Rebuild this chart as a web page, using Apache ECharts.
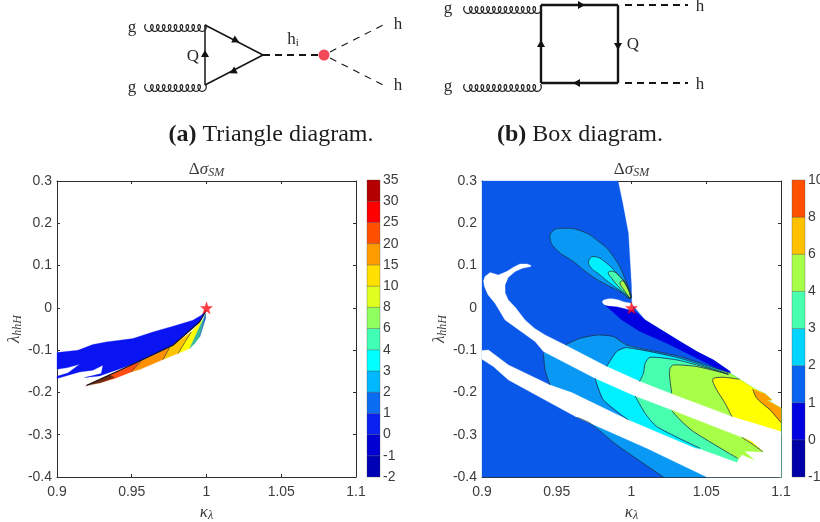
<!DOCTYPE html>
<html><head><meta charset="utf-8">
<style>html,body{margin:0;padding:0;background:#fff}#c{width:820px;height:522px}</style>
<script src="https://cdn.jsdelivr.net/npm/echarts@6/dist/echarts.min.js"></script>
</head><body><div id="c"></div>
<script>
// ---------- colour bar values ----------
const leftTicks  = ['-2','-1','0','1','2','3','4','6','8','10','15','20','25','30','35'];
const rightTicks = ['-1','0','1','2','3','4','6','8','10'];
const leftBarColors  = ['#0000b4','#0000d2','#0a20f0','#0a6cf0','#00b8ff','#00ffff','#40ffb4','#90ff60','#e0ff20','#ffe000','#ff9c00','#ff5000','#ff0000','#b40000'];
const rightBarColors = ['#0000a8','#0000e0','#0a62f0','#00d4ff','#48ffb0','#a8ff48','#ffc000','#ff5000'];

// ---------- left panel regions (kappa, lambda) ----------
const leftBlue = [[.9,-.1058],[.9140,-.1002],[.9240,-.0868],[.9330,-.0805],[.9508,-.0727],[.9642,-.0569],[.9776,-.0435],[.9909,-.0293],[.9965,-.0175],[.9999,-.0057],[.9954,-.0333],[.9776,-.0884],[.9508,-.1333],[.9285,-.1609],[.9185,-.1649],[.9296,-.1554],[.9307,-.1357],[.9240,-.1475],[.9151,-.1515],[.9,-.1672],[.9,-.1617],[.9073,-.1538],[.9151,-.1333],[.9073,-.1412],[.9,-.1452]];
const leftBrown = [[.9190,-.1845],[.9352,-.1585],[.9385,-.1649],[.9285,-.1775]];
const leftRed = [[.9285,-.1775],[.9352,-.1585],[.9564,-.1255],[.9497,-.1515],[.9385,-.1672]];
const leftOrange = [[.9497,-.1515],[.9564,-.1255],[.9753,-.0939],[.9709,-.1223],[.9553,-.1459]];
const leftAmber = [[.9709,-.1223],[.9753,-.0939],[.9898,-.0569],[.9809,-.1081]];
const leftYellow = [[.9809,-.1081],[.9898,-.0569],[.9976,-.0277],[.9887,-.0963]];
const leftTeal = [[.9887,-.0963],[.9976,-.0277],[.9994,-.0136],[.9954,-.0687],[.9921,-.0845]];
const leftDeep = [[.9994,-.0136],[.9994,-.0254],[.9954,-.0687]];
const leftEdge = [[.9999,-.0057],[.9954,-.0333],[.9776,-.0884],[.9508,-.1333],[.9200,-.1830]];
const leftContours = [
  [[.9497,-.1515],[.9564,-.1255]],
  [[.9709,-.1223],[.9753,-.0939]],
  [[.9809,-.1081],[.9898,-.0569]]
];

// ---------- right panel regions (kappa, lambda) ----------
const topRim = [[1.0660,-.1547],[1.0722,-.1689],[1.0816,-.1901],[1.0894,-.2035],[1.0938,-.2177],[1.0905,-.2177],[1.1,-.2374]];
const rightBase = [[.9,.3],[.9910,.3],[.9941,.2474],[.9979,.1764],[1.0,.0503],[1.0001,.0094],[1.0091,-.0286],[1.0325,-.0798],[1.0437,-.1035],[1.0548,-.1232],[1.0660,-.1507],[1.0660,-.1586],[1.0503,-.4],[.9,-.4]];
const rightDark = [[.9823,.0070],[1.0001,-.0009],[1.0091,-.0286],[1.0325,-.0798],[1.0437,-.1035],[1.0548,-.1232],[1.0660,-.1507],[1.0660,-.1586],[1.0437,-.1192],[1.0236,-.0838],[1.0057,-.0562],[.9935,-.0286]];
const lobe2 = [[.9995,.0228],[.9968,.0582],[.9879,.1213],[.9767,.1607],[.9656,.1827],[.9544,.1883],[.9477,.1827],[.9455,.1646],[.9500,.1370],[.9611,.1095],[.9723,.0779],[.9834,.0543],[.9923,.0385]];
const lobe3 = [[.9995,.0228],[.9957,.0582],[.9901,.0819],[.9834,.1055],[.9756,.1213],[.9716,.1134],[.9723,.0976],[.9789,.0779],[.9856,.0582],[.9934,.0385]];
const lobe4 = [[.9995,.0228],[.9968,.0543],[.9923,.0740],[.9879,.0858],[.9845,.0835],[.9867,.0701],[.9923,.0464],[.9968,.0307]];
const lobe5 = [[.9995,.0228],[.9950,.0622],[.9923,.0598],[.9957,.0385]];
const level2 = [[.9556,-.0877],[.9656,-.0719],[.9779,-.0641],[.9879,-.0680],[.9968,-.0877],[1.0325,-.1153],...topRim,[1.1,-.4],[1.0214,-.4],[.9901,-.3241],[.9723,-.2729],[.9634,-.2587],[.9455,-.1823],[.9422,-.1468],[.9411,-.1074]];
const level3 = [[.9968,-.0940],[1.0325,-.1192],...topRim,[1.1,-.4],[1.0548,-.3753],[1.0102,-.3005],[.9979,-.2650],[.9812,-.2177],[.9756,-.1665],[.9834,-.1389],[.9901,-.1035]];
const level4 = [[1.0124,-.1169],[1.0325,-.1247],...topRim,[1.1,-.4],[1.0548,-.3753],[1.0459,-.3320],[1.0169,-.2808],[1.0091,-.2492],[1.0024,-.2083],[1.0053,-.1744],[1.0080,-.1547],[1.0091,-.1310]];
const level5 = [[1.0280,-.1350],[1.0437,-.1389],...topRim,[1.1,-.4],[1.0771,-.3832],[1.0709,-.3556],[1.0414,-.2926],[1.0325,-.2650],[1.0269,-.2429],[1.0269,-.2020],[1.0254,-.1586],[1.0258,-.1429]];
const level6 = [[1.0548,-.1665],[1.0615,-.1641],[1.0722,-.1689],[1.0816,-.1901],[1.0894,-.2035],[1.0938,-.2177],[1.0905,-.2177],[1.1,-.2374],[1.1,-.30],[1.0749,-.2808],[1.0671,-.2571],[1.0626,-.2256],[1.0570,-.1941],[1.0544,-.1744]];
const level8 = [[1.0811,-.1925],[1.0838,-.2138],[1.0927,-.2414],[1.1,-.2713],[1.1,-.2374],[1.0905,-.2177],[1.0938,-.2177],[1.0894,-.2035]];
const whiteBands = [[.9326,.0976],[.9270,.0935],[.9221,.0858],[.9175,.0720],[.9154,.0541],[.9155,.0350],[.9176,.0188],[.9225,.0000],[.9288,-.0286],[.9350,-.0480],[.9422,-.0641],[.9556,-.0877],[.9834,-.1389],[1.0057,-.1744],[1.0269,-.2035],[1.0671,-.2571],[1.1,-.2926],[1.1,-.4],[1.0503,-.4],[1.0102,-.3320],[.9634,-.2587],[.9177,-.1704],[.9076,-.1389],[.9,-.1216],[.9,-.1011],[.9043,-.0995],[.9177,-.1350],[.9455,-.1823],[.9600,-.2004],[.9979,-.2650],[1.0425,-.3320],[1.0459,-.3343],[1.0704,-.3659],[1.0738,-.3477],[1.0827,-.3611],[1.0760,-.3399],[1.0883,-.3414],[1.0804,-.3162],[1.0738,-.3060],[1.0280,-.2429],[1.0024,-.2083],[.9756,-.1665],[.9411,-.1035],[.9355,-.0798],[.9154,-.0286],[.9087,.0110],[.9040,.0310],[.9016,.0504],[.9010,.0640],[.9020,.0740],[.9054,.0835],[.9109,.0779],[.9165,.0858],[.9210,.0960],[.9254,.1039],[.9300,.1040],[.9326,.1008]];
const whiteCrescent = [[.9805,.0149],[.9834,.0204],[.9890,.0204],[.9957,.0133],[1.0001,.0094],[1.0008,-.0009],[1.0001,-.0048],[.9901,.0031],[.9823,.0070]];
const yellowSliver = [[1.0738,-.3060],[1.0804,-.3162],[1.0878,-.3399],[1.0816,-.3241]];
const rightContours = [
  [[.9556,-.0877],[.9656,-.0719],[.9779,-.0641],[.9879,-.0680],[.9968,-.0877],[1.0325,-.1153],[1.0660,-.1547]],
  [[.9411,-.1074],[.9422,-.1468],[.9455,-.1823]],
  [[.9634,-.2587],[.9723,-.2729],[.9901,-.3241],[1.0214,-.4]],
  [[.9834,-.1389],[.9901,-.1035],[.9968,-.0940],[1.0325,-.1192],[1.0648,-.1570]],
  [[.9756,-.1665],[.9812,-.2177],[.9979,-.2650]],
  [[1.0053,-.1744],[1.0080,-.1547],[1.0091,-.1310],[1.0124,-.1169],[1.0325,-.1247],[1.0648,-.1570]],
  [[1.0024,-.2083],[1.0091,-.2492],[1.0169,-.2808],[1.0459,-.3320]],
  [[1.0269,-.2020],[1.0254,-.1586],[1.0258,-.1429],[1.0280,-.1350],[1.0437,-.1389],[1.0648,-.1570]],
  [[1.0269,-.2429],[1.0325,-.2650],[1.0414,-.2926],[1.0709,-.3556]],
  [[1.0671,-.2571],[1.0626,-.2256],[1.0570,-.1941],[1.0544,-.1744],[1.0548,-.1665],[1.0615,-.1641],[1.0722,-.1689]],
  [[1.0811,-.1925],[1.0838,-.2138],[1.0927,-.2414],[1.1,-.2713]],
  [[1.0738,-.3060],[1.0816,-.3241],[1.0878,-.3399]]
];
const lobeContours = [lobe2,lobe3,lobe4,lobe5];
const starPoint = [[1.0,0]];
const kappaTicks = {min:.9,max:1.1,step:.05};
const lambdaTicks = {min:-.4,max:.3,step:.1};

// ---------- diagram strokes (diagram units) ----------
const thinLines = [[205,25,205,85],[205,25,263,55],[205,85,263,55]];
const boxLines  = [[541,5,618,5],[618,5,618,83],[618,83,541,83],[541,83,541,5]];
const dashThick = [[263,55,320,55],[625,5,688,5],[625,83,688,83]];
const dashThin  = [[330,52,383,25],[330,58,383,85]];
const gluons    = [[146,28,205],[146,88,205],[465,10,540],[465,88,540]];
const arrows    = [[205,57,0,-1],[233,39,2,1],[236,70,-2,1],[578,5,1,0],[618,43,0,1],[580,83,-1,0],[541,47,0,-1]];
const vertexDot = [[324,55]];
const diagramText = [[132,28,'g'],[132,88,'g'],[193,57,'Q'],[398,25,'h'],[398,86,'h'],[448,9,'g'],[448,87,'g'],[633,45,'Q'],[700,7,'h'],[700,85,'h']];
const captions = [[271,135,'{b|(a)} Triangle diagram.'],[580,135,'{b|(b)} Box diagram.']];

// ---------- builders ----------
const SERIF='"Liberation Serif","DejaVu Serif",serif', SANS='"Liberation Sans",Arial,sans-serif', GREY='#3c3c3c';
const nameRich={i:{fontFamily:SERIF,fontStyle:'italic',fontSize:17,color:GREY,lineHeight:18},
  u:{fontFamily:SERIF,fontSize:17,color:GREY,lineHeight:18},
  s:{fontFamily:SERIF,fontStyle:'italic',fontSize:12,color:GREY,verticalAlign:'bottom',padding:[6,0,0,0]}};
function poly(pts,color,ax,smooth){return {type:'custom',xAxisIndex:ax,yAxisIndex:ax,silent:true,animation:false,data:pts,
  encode:{x:0,y:1},renderItem:(p,api)=>p.dataIndex?null:{type:'polygon',
    shape:{points:pts.map(q=>api.coord(q)),smooth:smooth||0},style:{fill:color,stroke:color,lineWidth:.3}}};}
function line(pts,color,width,ax,smooth,closed){return {type:'custom',xAxisIndex:ax,yAxisIndex:ax,silent:true,animation:false,data:pts,
  encode:{x:0,y:1},renderItem:(p,api)=>p.dataIndex?null:{type:closed?'polygon':'polyline',
    shape:{points:pts.map(q=>api.coord(q)),smooth:smooth||0},style:{fill:null,stroke:color,lineWidth:width}}};}
function star(ax){return {type:'scatter',xAxisIndex:ax,yAxisIndex:ax,silent:true,animation:false,data:starPoint,z:10,symbolSize:13,
  symbol:'path://M0,-10L2.35,-3.24L9.51,-3.09L3.8,1.24L5.88,8.09L0,4L-5.88,8.09L-3.8,1.24L-9.51,-3.09L-2.35,-3.24Z',
  itemStyle:{color:'#ff0a14'}};}
function bar(colors,ax){const d=colors.map((c,i)=>[i]);return {type:'custom',xAxisIndex:ax,yAxisIndex:ax,silent:true,animation:false,data:d,
  encode:{y:0},renderItem:(p,api)=>{const i=p.dataIndex,a=api.coord([0,i]),b=api.coord([1,i+1]);
    return {type:'rect',shape:{x:a[0],y:b[1],width:b[0]-a[0],height:a[1]-b[1]},style:{fill:colors[i],stroke:'rgba(70,70,70,.45)',lineWidth:.7}};}};}
function diag(data,build){return {type:'custom',xAxisIndex:0,yAxisIndex:0,silent:true,animation:false,data:data.map(r=>r.slice(0,2)),
  encode:{x:0,y:1},renderItem:(p,api)=>build(data[p.dataIndex],api)};}
function segs(data,width,dash){return diag(data,(r,api)=>{const a=api.coord([r[0],r[1]]),b=api.coord([r[2],r[3]]);
  return {type:'line',shape:{x1:a[0],y1:a[1],x2:b[0],y2:b[1]},style:{stroke:'#151515',lineWidth:width,lineDash:dash||null}};});}
function curl(r,api){const pts=[],a=api.coord([r[0],r[1]]),b=api.coord([r[2],r[1]]),n=Math.round((b[0]-a[0])/5.8),T=(b[0]-a[0])/(n*Math.PI*2);
  for(let t=0;t<=n*Math.PI*2+.01;t+=.3)pts.push([a[0]+T*t-2.6*Math.sin(t),a[1]-3.4*Math.cos(t)]);
  return {type:'polyline',shape:{points:pts},style:{fill:null,stroke:'#222',lineWidth:1.2}};}
function arrow(r,api){const c=api.coord([r[0],r[1]]),L=Math.hypot(r[2],r[3]),x=r[2]/L,y=r[3]/L,s=5,h=7;
  return {type:'polygon',shape:{points:[[c[0]+x*h,c[1]+y*h],[c[0]-y*s*.8,c[1]+x*s*.8],[c[0]+y*s*.8,c[1]-x*s*.8]]},style:{fill:'#111'}};}
function txt(r,api){const c=api.coord([r[0],r[1]]);return {type:'text',x:c[0],y:c[1],style:{text:r[2],font:'17px '+SERIF,fill:'#2a2a2a',textAlign:'center',textVerticalAlign:'middle'}};}
function cap(r,api){const c=api.coord([r[0],r[1]]);return {type:'text',x:c[0],y:c[1],style:{text:r[2],font:'24px '+SERIF,fill:'#1c1c1c',textAlign:'center',textVerticalAlign:'middle',
  rich:{b:{font:'bold 24px '+SERIF,fill:'#1c1c1c'}}}};}

const axisStyle={lineStyle:{color:'#2e2e2e',width:1}};
const plotX=(grid,extra)=>Object.assign({type:'value',gridIndex:grid,min:kappaTicks.min,max:kappaTicks.max,interval:kappaTicks.step,
  axisLine:Object.assign({show:true,onZero:false},axisStyle),axisTick:{inside:true,length:3,lineStyle:axisStyle.lineStyle},splitLine:{show:false},
  axisLabel:{color:GREY,fontFamily:SANS,fontSize:14,margin:8}},extra);
const plotY=(grid,extra)=>Object.assign({type:'value',gridIndex:grid,min:lambdaTicks.min,max:lambdaTicks.max,interval:lambdaTicks.step,
  axisLine:Object.assign({show:true,onZero:false},axisStyle),axisTick:{inside:true,length:3,lineStyle:axisStyle.lineStyle},splitLine:{show:false},
  axisLabel:{color:GREY,fontFamily:SANS,fontSize:14,margin:5}},extra);
const xBottom={position:'bottom',name:'{i|κ}{s|λ}',nameLocation:'middle',nameGap:21,nameTextStyle:{rich:nameRich}};
const xTop={position:'top',axisLabel:{show:false},name:'{u|Δ}{i|σ}{s|SM}',nameLocation:'middle',nameGap:2,nameTextStyle:{rich:nameRich}};
const yLeft={position:'left',name:'{i|λ}{s|hhH}',nameLocation:'middle',nameGap:33,nameRotate:90,nameTextStyle:{rich:nameRich}};
const yRight={position:'right',axisLabel:{show:false}};
const barX=g=>({type:'value',gridIndex:g,min:0,max:1,show:false});
const barY=(g,ticks)=>({type:'value',gridIndex:g,position:'right',min:0,max:ticks.length-1,interval:1,
  axisLine:{show:false},axisTick:{show:false},splitLine:{show:false},
  axisLabel:{color:GREY,fontFamily:SANS,fontSize:14,margin:3,formatter:v=>ticks[v]}});

const option={
  backgroundColor:'#fff',animation:false,
  grid:[
    {left:0,top:0,width:820,height:522,outerBoundsMode:'none'},
    {left:57,top:181,width:299,height:296,outerBoundsMode:'none'},
    {left:367,top:180,width:13,height:297,outerBoundsMode:'none'},
    {left:482,top:181,width:299,height:296,outerBoundsMode:'none'},
    {left:792,top:180,width:13,height:297,outerBoundsMode:'none'}
  ],
  xAxis:[
    {type:'value',gridIndex:0,min:0,max:820,show:false},
    plotX(1,xBottom),plotX(1,xTop),barX(2),
    plotX(3,xBottom),plotX(3,xTop),barX(4)
  ],
  yAxis:[
    {type:'value',gridIndex:0,min:0,max:522,inverse:true,show:false},
    plotY(1,yLeft),plotY(1,yRight),barY(2,leftTicks),
    plotY(3,yLeft),plotY(3,yRight),barY(4,rightTicks)
  ],
  series:[
    // diagrams
    segs(thinLines,1.5),segs(boxLines,2.4),segs(dashThick,1.8,[7,5]),segs(dashThin,1.1,[7,6]),
    diag(gluons,curl),diag(arrows,arrow),
    {type:'scatter',xAxisIndex:0,yAxisIndex:0,silent:true,animation:false,data:vertexDot,symbolSize:11,itemStyle:{color:'#ee1c2e'}},
    diag(diagramText,txt),diag(captions,cap),
    diag([[293,40]],(r,api)=>{const c=api.coord(r);return {type:'text',x:c[0],y:c[1],style:{text:'h{s|i}',font:'17px '+SERIF,fill:'#2a2a2a',textAlign:'center',textVerticalAlign:'middle',rich:{s:{font:'11px '+SERIF,fill:'#2a2a2a',verticalAlign:'bottom',padding:[5,0,0,0]}}}};}),
    // left panel
    poly(leftBlue,'#0a14f2',1),poly(leftRed,'#ff4c12',1),poly(leftBrown,'#6e2a12',1),poly(leftOrange,'#ff9000',1),
    poly(leftAmber,'#ffc400',1),poly(leftYellow,'#ffff00',1),poly(leftTeal,'#38b89c',1),poly(leftDeep,'#0a58c0',1),
    line(leftEdge,'#101010',1.1,1),...leftContours.map(c=>line(c,'#403020',.7,1)),
    star(1),bar(leftBarColors,3),
    // right panel
    poly(rightBase,'#0a58ea',4),poly(rightDark,'#0000e0',4),
    poly(lobe2,'#0a98f5',4,.5),poly(lobe3,'#00f0ff',4,.5),poly(lobe4,'#48ffb0',4,.5),poly(lobe5,'#a8ff48',4,.5),
    poly(level2,'#0a98f5',4),poly(level3,'#00f0ff',4),poly(level4,'#48ffb0',4),poly(level5,'#a8ff48',4),poly(level6,'#ffff00',4),poly(level8,'#ffa000',4),
    poly(whiteBands,'#ffffff',4),poly(whiteCrescent,'#ffffff',4,.4),poly(yellowSliver,'#ffff00',4),
    ...rightContours.map(c=>line(c,'#1c3048',.8,4,.25)),
    ...lobeContours.map(c=>line(c,'#1c3048',.8,4,.5,true)),
    star(4),bar(rightBarColors,6)
  ]
};
echarts.init(document.getElementById('c'),null,{renderer:'canvas'}).setOption(option);
</script></body></html>
